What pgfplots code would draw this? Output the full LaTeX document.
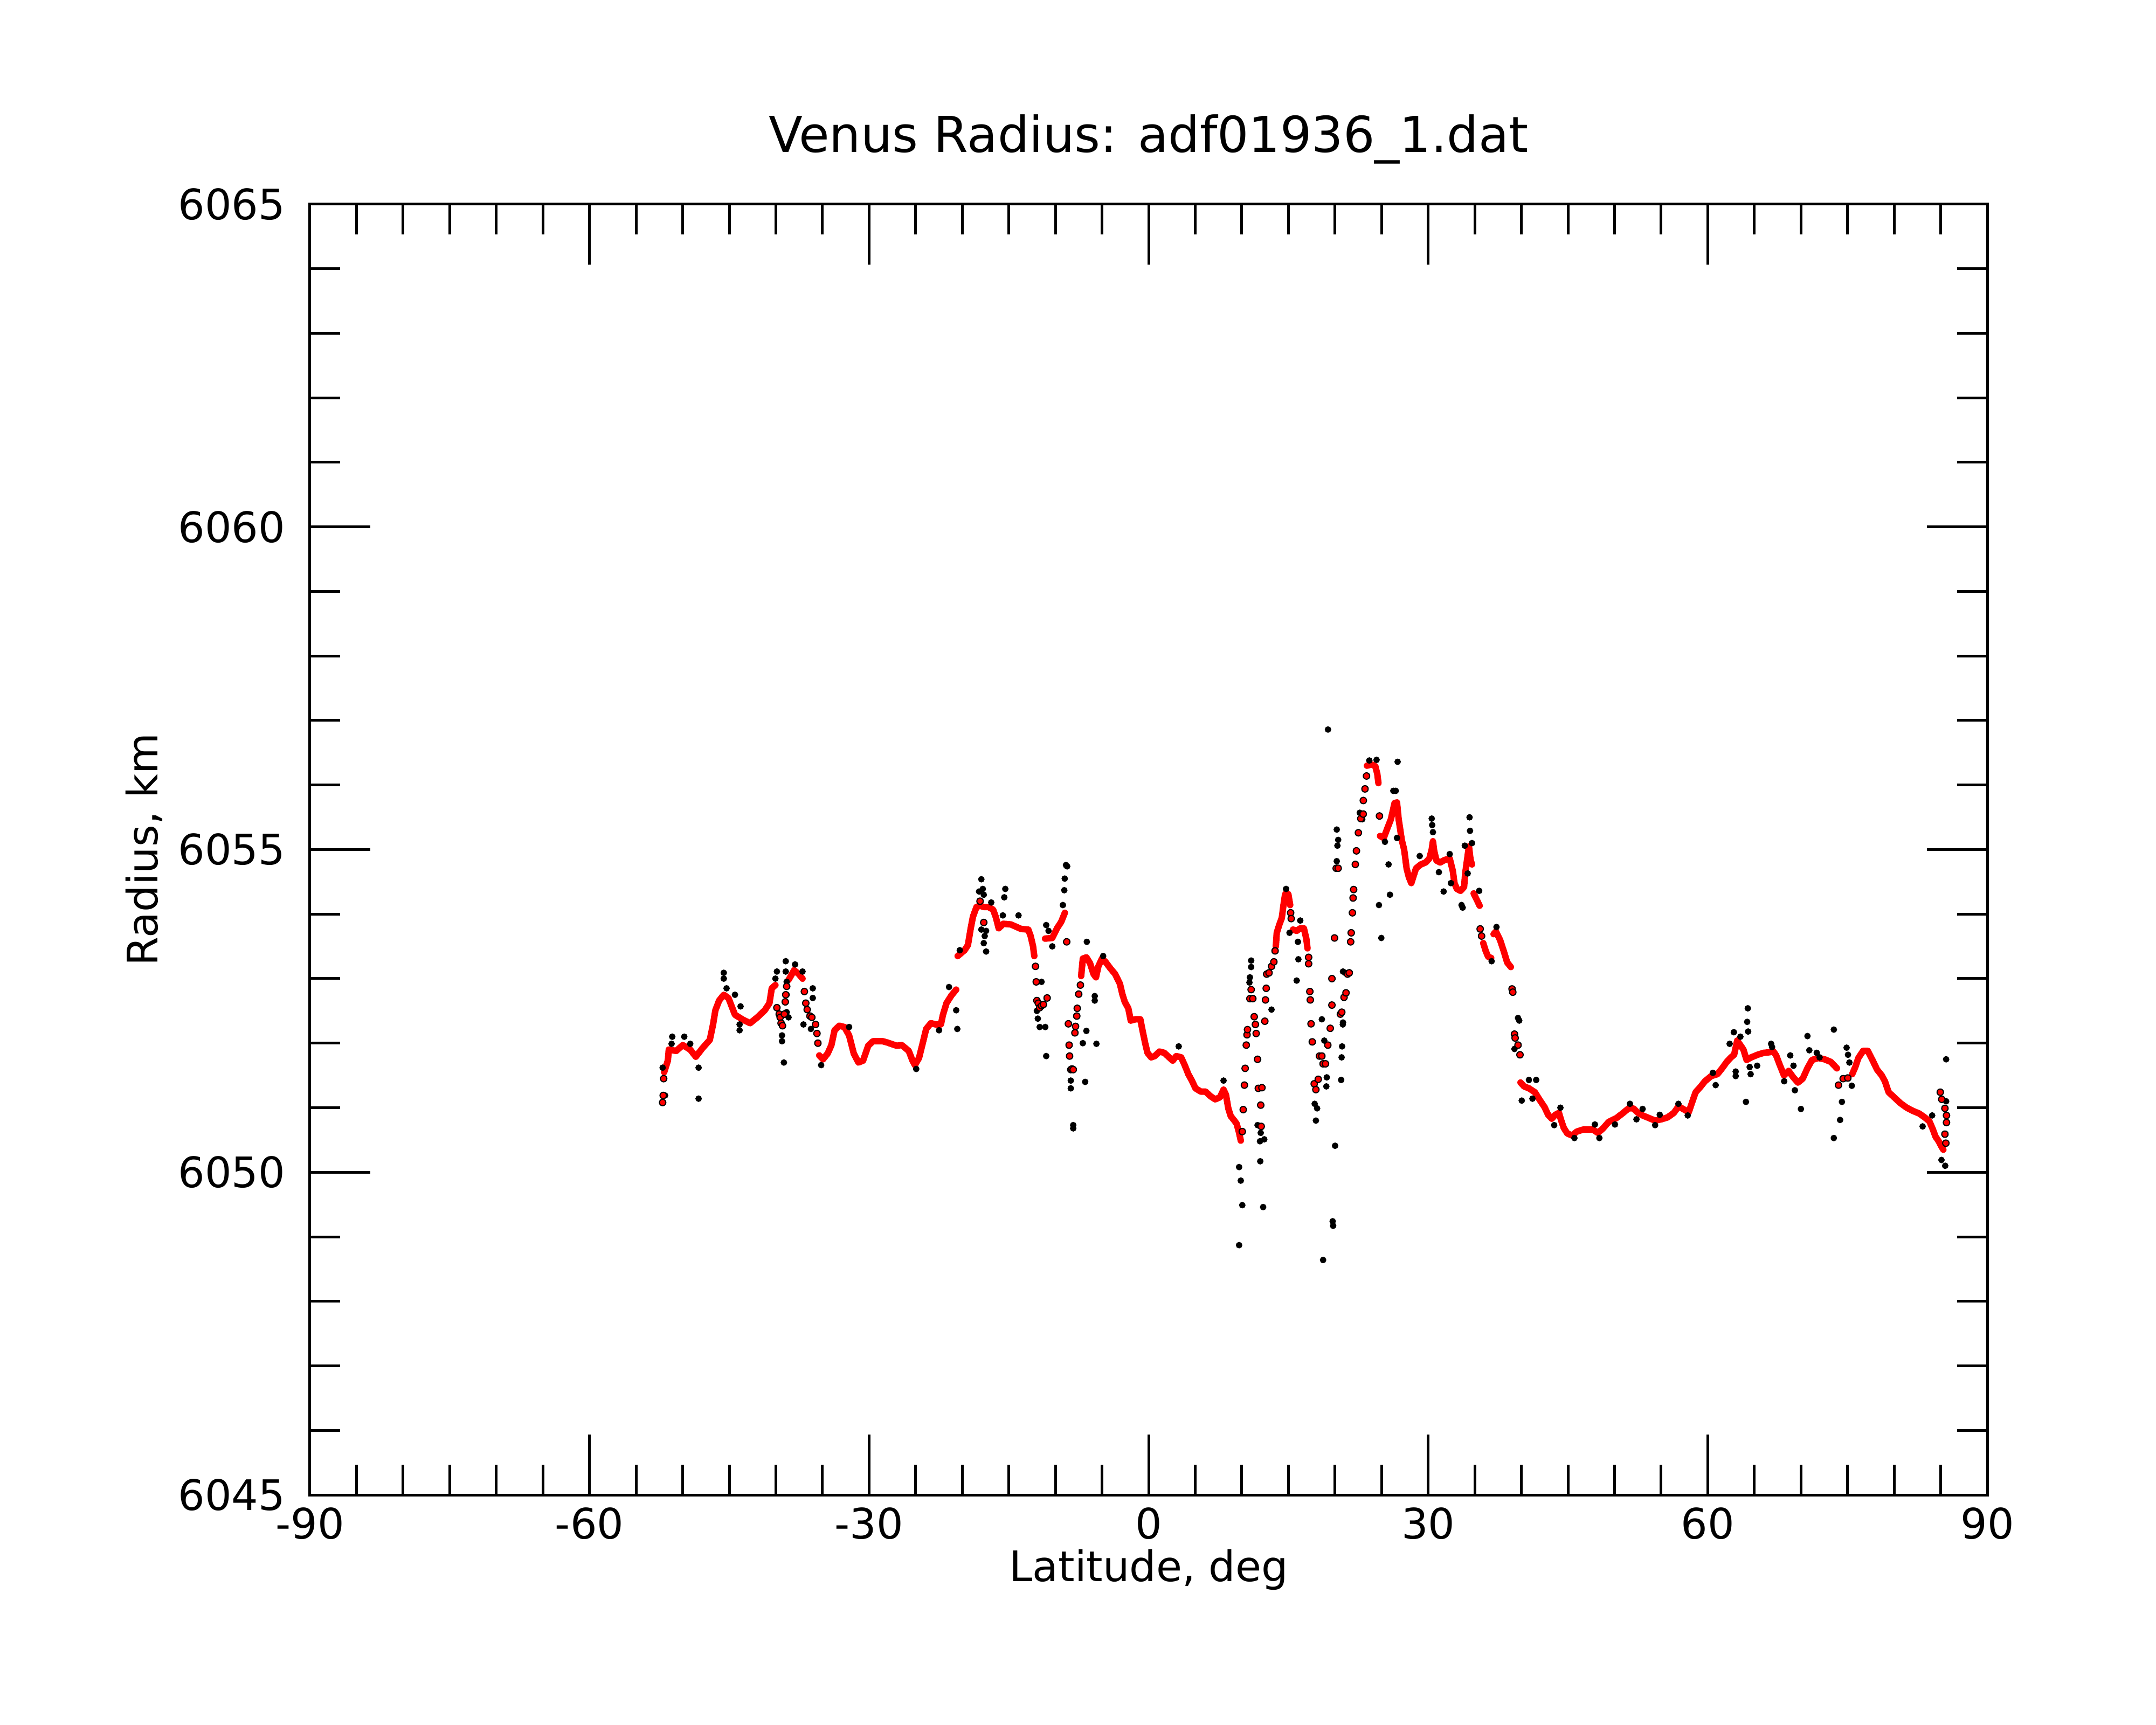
\documentclass[border=0pt]{standalone}
\usepackage{fontspec}
\setmainfont{DejaVu Sans}
\usepackage{pgfplots}
\pgfplotsset{compat=1.18}
\begin{document}
\begin{tikzpicture}
\path[use as bounding box] (-115pt,-85.2pt) rectangle (685pt,554.8pt);
\begin{axis}[
  at={(0pt,0pt)}, anchor=south west,
  scale only axis, width=622.4pt, height=479pt,
  xmin=-90, xmax=90, ymin=6045, ymax=6065,
  xtick={-90,-60,-30,0,30,60,90},
  xticklabels={-90,-60,-30,0,30,60,90},
  ytick={6045,6050,6055,6060,6065},
  yticklabels={6045,6050,6055,6060,6065},
  minor x tick num=5, minor y tick num=4,
  tick align=inside,
  major tick length=22.4pt, minor tick length=11.3pt,
  tick style={black, line width=1pt},
  axis line style={line width=1pt},
  tick label style={font=\fontsize{15.6}{18}\selectfont},
  xticklabel style={anchor=base, yshift=-16.2pt, inner sep=0pt},
  yticklabel style={anchor=east, xshift=-9pt, inner sep=0pt},
  xlabel={Latitude, deg},
  xlabel style={at={(axis description cs:0.5,-0.0672)}, anchor=base, font=\fontsize{15.6}{18}\selectfont, inner sep=0pt},
  ylabel={Radius, km},
  ylabel style={at={(axis description cs:-0.0909,0.5)}, anchor=base, font=\fontsize{15.6}{18}\selectfont, inner sep=0pt},
  title={Venus Radius: adf01936\_1.dat},
  every axis title/.style={at={(axis description cs:0.5,1.0401)}, anchor=base, font=\fontsize{18.4}{22}\selectfont, inner sep=0pt},
  clip=false,
]
% raw measurements (black)
\addplot[only marks, mark=*, mark size=1pt, mark options={draw=none, fill=black}] coordinates {
(-52.15,6051.62)(-51.89,6051.19)(-52.15,6051.08)(-51.12,6052.10)(-51.19,6051.99)(-49.83,6052.10)
(-49.19,6051.99)(-48.29,6051.14)(-48.29,6051.62)(-45.59,6053.09)(-45.59,6053.00)(-45.29,6052.85)
(-44.39,6052.75)(-43.79,6052.57)(-43.89,6052.29)(-43.89,6052.20)(-39.89,6053.11)(-40.05,6053.00)
(-38.94,6053.27)(-38.94,6053.11)(-38.84,6052.95)(-38.84,6052.75)(-39.34,6052.12)(-39.34,6052.03)
(-39.14,6051.70)(-37.94,6053.22)(-37.14,6053.11)(-36.04,6052.85)(-36.04,6052.70)(-37.04,6052.29)
(-36.24,6052.22)(-38.84,6052.48)(-38.64,6052.40)(-35.14,6051.66)(-32.14,6052.25)(-24.94,6051.60)
(-22.49,6052.20)(-21.42,6052.87)(-20.65,6052.51)(-20.53,6052.22)(-20.26,6053.44)(-17.95,6054.54)
(-17.79,6054.39)(-18.19,6054.35)(-17.69,6054.30)(-17.95,6053.76)(-17.44,6053.74)(-17.59,6053.66)
(-17.69,6053.55)(-17.44,6053.42)(-15.38,6054.39)(-15.49,6054.26)(-15.64,6053.98)(-13.96,6053.98)
(-16.89,6054.18)(-10.99,6053.83)(-10.74,6053.74)(-10.34,6053.50)(-11.99,6052.50)(-11.89,6052.38)
(-11.69,6052.25)(-11.09,6052.25)(-10.99,6051.80)(-11.49,6052.95)(-8.87,6054.76)(-8.74,6054.74)
(-9.00,6054.55)(-9.05,6054.37)(-9.20,6054.14)(-8.35,6051.42)(-8.35,6051.30)(-8.09,6050.73)
(-8.09,6050.68)(-6.81,6051.40)(-6.68,6052.19)(-7.06,6052.00)(-6.63,6053.57)(-5.78,6052.66)
(-5.78,6052.73)(-5.60,6051.99)(-4.88,6053.35)(3.23,6051.95)(8.04,6051.42)(9.71,6050.08)
(9.89,6049.87)(10.05,6049.49)(9.71,6048.87)(11.00,6053.28)(11.00,6053.18)(10.87,6053.02)
(10.82,6052.94)(11.69,6050.73)(12.03,6050.61)(12.41,6050.51)(11.95,6050.48)(11.98,6050.17)
(12.29,6049.46)(13.19,6052.52)(15.89,6052.97)(16.07,6053.30)(16.02,6053.57)(15.12,6053.71)
(16.27,6053.90)(17.82,6051.06)(18.08,6050.99)(17.95,6050.80)(18.59,6052.37)(18.85,6052.04)
(19.12,6051.47)(19.07,6051.33)(18.72,6048.64)(19.75,6049.24)(19.80,6049.17)(20.01,6050.41)
(20.19,6055.31)(20.34,6055.15)(20.26,6055.06)(20.19,6054.82)(20.66,6051.43)(20.71,6051.78)
(20.76,6051.95)(20.84,6052.29)(19.62,6053.00)(21.08,6053.09)(22.98,6055.53)(19.25,6056.86)
(14.75,6054.39)(20.86,6053.11)(20.86,6052.32)(22.66,6055.57)(22.92,6055.47)(23.68,6056.38)
(24.46,6056.39)(26.72,6056.36)(26.26,6055.91)(26.52,6055.91)(24.72,6054.14)(24.97,6053.63)
(25.75,6054.77)(25.90,6054.30)(25.36,6055.12)(26.65,6055.18)(30.38,6055.48)(30.43,6055.38)
(30.51,6055.27)(29.09,6054.90)(31.15,6054.65)(31.66,6054.35)(32.31,6054.93)(32.44,6054.48)
(33.58,6054.14)(33.70,6054.10)(34.44,6055.50)(34.49,6055.29)(34.70,6055.10)(33.93,6055.06)
(34.24,6054.63)(35.47,6054.36)(37.33,6053.80)(36.81,6053.27)(39.64,6052.39)(39.77,6052.35)
(39.26,6051.91)(41.59,6051.43)(40.81,6051.43)(40.04,6051.11)(44.19,6051.00)(41.19,6051.14)
(43.52,6050.73)(45.69,6050.53)(47.89,6050.74)(48.37,6050.53)(50.04,6050.74)(51.65,6051.06)
(52.35,6050.82)(53.01,6050.98)(54.35,6050.73)(54.85,6050.89)(56.85,6051.06)(57.85,6050.88)
(60.55,6051.54)(60.85,6051.35)(62.35,6051.99)(62.80,6052.17)(63.00,6051.56)(63.00,6051.49)
(63.50,6052.10)(64.30,6052.54)(64.23,6052.33)(64.33,6052.18)(64.10,6051.09)(64.60,6051.52)
(64.50,6051.63)(65.30,6051.65)(66.80,6051.99)(66.90,6051.94)(68.20,6051.41)(68.85,6051.81)
(69.20,6051.65)(69.35,6051.27)(70.00,6050.98)(70.70,6052.11)(70.90,6051.89)(72.00,6051.78)
(71.70,6051.85)(73.53,6052.21)(74.90,6051.93)(75.05,6051.82)(75.20,6051.70)(74.40,6051.09)
(74.20,6050.81)(73.53,6050.53)(75.46,6051.34)(84.08,6050.88)(83.06,6050.71)(85.08,6050.19)
(85.48,6050.10)(85.58,6051.75)(85.58,6051.10)
};
% filtered radius (red), dense runs
\addplot[red, line width=2.4pt, line cap=round, line join=round, mark=none, unbounded coords=jump] coordinates {
(-51.99,6051.55)(-51.59,6051.73)(-51.49,6051.90)(-50.69,6051.88)(-49.99,6051.97)(-49.19,6051.90)(-48.59,6051.79)
(-47.89,6051.92)(-47.09,6052.05)(-46.74,6052.29)(-46.49,6052.51)(-46.09,6052.66)(-45.59,6052.75)(-45.09,6052.70)
(-44.39,6052.44)(-43.49,6052.36)(-42.76,6052.31)(-41.99,6052.40)(-41.19,6052.51)(-40.69,6052.62)(-40.44,6052.85)
(-40.05,6052.90)
(0,nan)
(-38.64,6052.98)(-38.44,6053.03)(-38.04,6053.13)(-37.54,6053.07)(-37.14,6053.00)
(0,nan)
(-35.34,6051.81)(-34.94,6051.75)(-34.44,6051.84)(-34.04,6051.97)(-33.70,6052.20)(-33.19,6052.27)(-32.64,6052.25)
(-32.14,6052.12)(-31.64,6051.84)(-31.14,6051.70)(-30.64,6051.73)(-30.09,6051.96)(-29.58,6052.03)(-28.54,6052.03)
(-28.04,6052.01)(-27.04,6051.96)(-26.49,6051.97)(-25.74,6051.88)(-25.34,6051.73)(-25.08,6051.66)(-24.64,6051.77)
(-24.26,6051.99)(-23.87,6052.22)(-23.36,6052.31)(-22.84,6052.29)(-22.29,6052.29)(-22.07,6052.44)(-21.69,6052.62)
(-21.16,6052.74)(-20.65,6052.83)
(0,nan)
(-20.49,6053.35)(-19.75,6053.44)(-19.39,6053.52)(-19.09,6053.78)(-18.85,6053.96)(-18.47,6054.11)(-18.09,6054.13)
(-17.69,6054.11)(-17.19,6054.11)(-16.69,6054.07)(-16.39,6053.95)(-16.09,6053.78)(-15.59,6053.85)(-14.79,6053.84)
(-13.69,6053.77)(-12.91,6053.76)(-12.66,6053.66)(-12.40,6053.50)(-12.27,6053.35)
(0,nan)
(-11.11,6053.62)(-10.34,6053.63)(-9.83,6053.78)(-9.38,6053.88)(-8.99,6054.02)
(0,nan)
(-7.24,6053.04)(-7.06,6053.31)(-6.68,6053.33)(-6.29,6053.24)(-5.91,6053.07)(-5.65,6053.02)(-5.39,6053.19)
(-5.01,6053.31)(-4.63,6053.26)(-4.11,6053.16)(-3.59,6053.07)(-3.08,6052.92)(-2.82,6052.76)(-2.56,6052.64)
(-2.18,6052.54)(-1.92,6052.35)(-1.40,6052.37)(-0.89,6052.37)(-0.63,6052.18)(-0.37,6052.0)(-0.12,6051.85)
(0.27,6051.78)(0.66,6051.8)(1.17,6051.87)(1.68,6051.85)(2.20,6051.78)(2.59,6051.73)(2.97,6051.8)(3.49,6051.78)
(3.87,6051.66)(4.26,6051.52)(4.64,6051.42)(5.03,6051.3)(5.59,6051.25)(6.11,6051.25)(6.62,6051.18)(7.14,6051.13)
(7.65,6051.16)(8.04,6051.28)(8.30,6051.2)(8.55,6050.99)(8.81,6050.87)(9.20,6050.8)(9.45,6050.75)(9.71,6050.61)
(9.89,6050.49)
(0,nan)
(13.65,6053.5)(13.75,6053.71)(14.01,6053.83)(14.29,6053.94)(14.47,6054.14)(14.65,6054.31)(14.99,6054.31)
(15.19,6054.14)
(0,nan)
(15.50,6053.76)(15.89,6053.74)(16.27,6053.78)(16.66,6053.78)(16.92,6053.62)(17.05,6053.47)
(0,nan)
(23.43,6056.3)(23.94,6056.32)(24.33,6056.29)(24.54,6056.17)(24.66,6056.03)
(0,nan)
(24.84,6055.21)(25.23,6055.18)(25.62,6055.33)(26.00,6055.47)(26.39,6055.72)(26.65,6055.73)(26.83,6055.47)
(26.98,6055.33)(27.16,6055.15)(27.42,6055.0)(27.55,6054.86)(27.68,6054.71)(27.93,6054.57)(28.19,6054.48)
(28.45,6054.6)(28.70,6054.71)(29.22,6054.77)(29.73,6054.8)(30.12,6054.86)(30.38,6055.0)(30.51,6055.13)
(30.64,6054.98)(30.89,6054.83)(31.28,6054.8)(31.79,6054.84)(32.31,6054.86)(32.64,6054.67)(32.82,6054.48)
(33.08,6054.39)(33.47,6054.36)(33.85,6054.42)(33.98,6054.64)(34.19,6054.86)(34.37,6055.05)(34.55,6054.84)
(34.70,6054.77)
(0,nan)
(34.88,6054.32)(35.22,6054.22)(35.52,6054.13)
(0,nan)
(35.91,6053.55)(36.17,6053.43)(36.43,6053.34)(36.76,6053.32)
(0,nan)
(37.02,6053.69)(37.27,6053.73)(37.71,6053.6)(38.10,6053.43)(38.48,6053.25)(38.87,6053.18)
(0,nan)
(39.91,6051.39)(40.29,6051.33)(40.81,6051.3)(41.45,6051.24)(41.97,6051.12)(42.48,6051.01)(42.87,6050.89)
(43.26,6050.83)(43.64,6050.89)(44.03,6050.92)(44.28,6050.8)(44.54,6050.69)(44.93,6050.6)(45.44,6050.57)
(45.96,6050.63)(46.60,6050.66)(47.70,6050.66)(48.20,6050.61)(48.70,6050.67)(49.37,6050.78)(50.21,6050.84)
(50.84,6050.91)(51.51,6050.99)(52.01,6050.99)(52.51,6050.92)(53.01,6050.88)(53.68,6050.84)(54.35,6050.8)
(55.02,6050.82)(55.69,6050.85)(56.36,6050.92)(56.86,6051.02)(57.36,6050.98)(57.96,6050.93)(58.36,6051.1)
(58.70,6051.24)(59.20,6051.32)(59.70,6051.41)(60.37,6051.49)(61.04,6051.52)(61.54,6051.61)(62.04,6051.71)
(62.49,6051.78)(62.83,6051.82)(63.16,6052.04)(63.50,6051.97)(63.83,6051.9)(64.17,6051.74)(64.67,6051.78)
(65.34,6051.82)(66.00,6051.85)(66.67,6051.86)(67.01,6051.88)(67.34,6051.81)(67.68,6051.68)(68.18,6051.5)
(68.68,6051.57)(69.18,6051.47)(69.68,6051.39)(70.19,6051.45)(70.69,6051.61)(71.19,6051.74)(71.86,6051.77)
(72.53,6051.75)(73.20,6051.71)(73.86,6051.61)
(0,nan)
(75.50,6051.52)(75.83,6051.63)(76.16,6051.77)(76.67,6051.88)(77.17,6051.88)(77.67,6051.74)(78.17,6051.59)
(78.67,6051.5)(79.01,6051.41)(79.41,6051.24)(80.01,6051.16)(80.68,6051.07)(81.35,6051.0)(82.02,6050.95)
(82.69,6050.91)(83.28,6050.85)(83.78,6050.79)(84.11,6050.68)(84.45,6050.55)(84.78,6050.48)(85.11,6050.39)
(85.28,6050.35)
};
% filtered radius (red), isolated points
\addplot[only marks, mark=*, mark size=1.2pt, mark options={draw=none, fill=red}] coordinates {
(-52.15,6051.08)(-52.09,6051.19)(-52.04,6051.45)
(-39.89,6052.55)(-39.64,6052.45)(-39.54,6052.40)(-39.44,6052.31)(-39.29,6052.27)(-39.09,6052.45)(-38.99,6052.64)
(-38.94,6052.75)(-38.84,6052.88)
(-36.94,6052.80)(-36.79,6052.62)(-36.64,6052.52)(-36.34,6052.42)(-36.14,6052.40)(-35.74,6052.29)(-35.59,6052.15)
(-35.49,6052.0)
(-18.09,6054.20)(-17.69,6053.87)
(-12.14,6053.19)(-12.06,6052.95)(-11.99,6052.66)(-11.84,6052.62)(-11.69,6052.55)(-11.49,6052.58)(-11.29,6052.6)
(-10.89,6052.7)
(-8.79,6053.57)
(-8.61,6052.30)(-8.53,6051.97)(-8.48,6051.8)(-8.35,6051.59)(-8.23,6051.6)(-8.09,6051.59)(-7.91,6052.16)
(-7.84,6052.26)(-7.71,6052.42)(-7.66,6052.54)(-7.50,6052.76)(-7.32,6052.9)
(10.05,6050.63)(10.15,6050.97)(10.28,6051.35)(10.36,6051.61)(10.48,6051.97)(10.56,6052.13)(10.61,6052.21)
(10.87,6052.69)(11.18,6052.69)(11.00,6052.83)(11.33,6052.41)(11.46,6052.29)(11.54,6052.15)(11.69,6051.75)
(11.77,6051.3)(12.16,6051.31)(12.03,6051.04)(12.08,6050.71)
(12.47,6052.34)(12.54,6052.67)(12.62,6052.85)(12.67,6053.07)(12.92,6053.09)(13.19,6053.19)(13.44,6053.26)
(13.57,6053.43)
(15.24,6054.02)(15.30,6053.93)
(17.17,6053.33)(17.17,6053.23)(17.30,6052.80)(17.35,6052.67)(17.43,6052.3)(17.56,6052.02)(17.77,6051.37)
(17.95,6051.28)(18.20,6051.44)(18.33,6051.8)(18.59,6051.8)(18.72,6051.68)(18.98,6051.68)(19.23,6051.97)
(19.49,6052.23)(19.67,6052.59)(19.67,6053.0)(19.95,6053.63)(20.13,6054.71)(20.34,6054.71)
(20.58,6052.45)(20.73,6052.48)(20.97,6052.71)(21.18,6052.78)(21.35,6053.07)(21.53,6053.09)(21.68,6053.57)
(21.74,6053.71)(21.87,6054.02)(21.94,6054.25)(22.00,6054.38)(22.18,6054.77)(22.30,6054.98)(22.51,6055.26)
(22.77,6055.48)(23.03,6055.55)(23.04,6055.76)(23.22,6055.94)(23.38,6056.14)
(24.77,6055.52)
(35.58,6053.77)(35.73,6053.66)
(39.00,6052.84)(39.08,6052.79)(39.26,6052.14)(39.33,6052.08)(39.64,6051.97)(39.85,6051.82)
(74.03,6051.35)(74.53,6051.45)(75.03,6051.46)
(85.55,6050.45)(85.45,6050.59)(85.62,6050.77)(85.62,6050.88)(85.45,6050.99)(85.11,6051.13)(84.95,6051.24)
};
\end{axis}
\end{tikzpicture}
\end{document}
